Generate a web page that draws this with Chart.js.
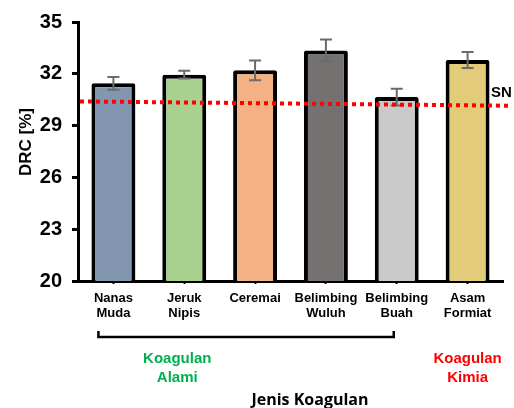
<!DOCTYPE html>
<html>
<head>
<meta charset="utf-8">
<script src="https://cdn.jsdelivr.net/npm/chart.js@4/dist/chart.umd.min.js"></script>
<style>
  html, body { margin: 0; padding: 0; background: #ffffff; }
  #wrap { width: 514px; height: 408px; }
</style>
</head>
<body>
<div id="wrap"><canvas id="c" width="514" height="408"></canvas></div>
<script>
// Coagulant types (two-line labels)
const categories = [
  ['Nanas', 'Muda'],
  ['Jeruk', 'Nipis'],
  ['Ceremai'],
  ['Belimbing', 'Wuluh'],
  ['Belimbing', 'Buah'],
  ['Asam', 'Formiat']
];
// Dry rubber content, % (mean and standard deviation)
const drcMean = [31.45, 31.95, 32.2, 33.35, 30.65, 32.8];
const drcError = [0.37, 0.22, 0.57, 0.63, 0.48, 0.46];
const barColors = ['#8497B0', '#A9D18E', '#F4B183', '#767171', '#C9C9C9', '#E2CC7A'];
// Standard (SN) reference line, value at left and right ends
const snLine = [30.4, 30.15];
// Y axis range and tick step
const yTicks = { min: 20, max: 35, step: 3 };
// Group labels below the axis
const groupNatural = ['Koagulan', 'Alami'];
const groupChemical = ['Koagulan', 'Kimia'];

const ARIAL = '"Liberation Sans", Arial, sans-serif';

const overlay = {
  id: 'overlay',
  afterDatasetsDraw(chart) {
    const ctx = chart.ctx;
    const x = chart.scales.x, y = chart.scales.y;
    const area = chart.chartArea;

    // error bars
    ctx.save();
    ctx.strokeStyle = '#6b6b6b';
    ctx.lineWidth = 2;
    drcMean.forEach((v, i) => {
      const cx = x.getPixelForValue(i);
      const top = y.getPixelForValue(v + drcError[i]);
      const bot = y.getPixelForValue(v - drcError[i]);
      ctx.beginPath();
      ctx.moveTo(cx, top); ctx.lineTo(cx, bot);
      ctx.moveTo(cx - 6, top); ctx.lineTo(cx + 6, top);
      ctx.moveTo(cx - 6, bot); ctx.lineTo(cx + 6, bot);
      ctx.stroke();
    });
    ctx.restore();

    // SN dotted line
    ctx.save();
    ctx.strokeStyle = '#FF0000';
    ctx.lineWidth = 4;
    ctx.setLineDash([4, 4]);
    ctx.beginPath();
    ctx.moveTo(area.left + 2, y.getPixelForValue(snLine[0]));
    ctx.lineTo(area.right + 8, y.getPixelForValue(snLine[1]));
    ctx.stroke();
    ctx.restore();

    // SN label
    ctx.save();
    ctx.fillStyle = '#000';
    ctx.font = 'bold 15px ' + ARIAL;
    ctx.textAlign = 'left';
    ctx.textBaseline = 'alphabetic';
    ctx.fillText('SN', 491, y.getPixelForValue(snLine[1]) - 9);
    ctx.restore();
  },
  afterDraw(chart) {
    const ctx = chart.ctx;
    const x = chart.scales.x;

    // y axis title
    ctx.save();
    ctx.translate(31, 142);
    ctx.rotate(-Math.PI / 2);
    ctx.font = 'bold 17px ' + ARIAL;
    ctx.fillStyle = '#000';
    ctx.textAlign = 'center';
    ctx.textBaseline = 'alphabetic';
    ctx.fillText('DRC [%]', 0, 0);
    ctx.restore();

    // bracket under natural coagulants
    const bl = x.getPixelForValue(0) - 15;
    const br = x.getPixelForValue(4) - 3;
    ctx.save();
    ctx.strokeStyle = '#000';
    ctx.lineWidth = 2.5;
    ctx.beginPath();
    ctx.moveTo(bl, 331); ctx.lineTo(bl, 337); ctx.lineTo(br, 337); ctx.lineTo(br, 331);
    ctx.stroke();
    ctx.restore();

    // group labels
    ctx.save();
    ctx.font = 'bold 15px ' + ARIAL;
    ctx.textAlign = 'center';
    ctx.textBaseline = 'alphabetic';
    ctx.fillStyle = '#00B050';
    const gx = x.getPixelForValue(1) - 7;
    ctx.fillText(groupNatural[0], gx, 363);
    ctx.fillText(groupNatural[1], gx, 382);
    ctx.fillStyle = '#FF0000';
    const kx = x.getPixelForValue(5);
    ctx.fillText(groupChemical[0], kx, 363);
    ctx.fillText(groupChemical[1], kx, 382);
    ctx.restore();

    // x axis title
    ctx.save();
    ctx.font = 'bold 16px "Open Sans", Lato, sans-serif';
    ctx.fillStyle = '#000';
    ctx.textAlign = 'center';
    ctx.textBaseline = 'alphabetic';
    ctx.fillText('Jenis Koagulan', 310, 405);
    ctx.restore();
  }
};

new Chart(document.getElementById('c'), {
  type: 'bar',
  data: {
    labels: categories,
    datasets: [{
      data: drcMean,
      backgroundColor: barColors,
      borderColor: '#000000',
      borderWidth: 4,
      borderRadius: 2,
      categoryPercentage: 1,
      barPercentage: 0.62
    }]
  },
  options: {
    responsive: false,
    animation: false,
    devicePixelRatio: 1,
    layout: { padding: { top: 21, right: 11, left: 0, bottom: 0 } },
    plugins: { legend: { display: false }, tooltip: { enabled: false }, title: { display: false } },
    scales: {
      x: {
        grid: { display: true, drawOnChartArea: false, offset: false, tickLength: 3, tickWidth: 2, tickColor: '#000' },
        border: { display: true, color: '#000', width: 3 },
        ticks: {
          color: '#000',
          font: { family: ARIAL, size: 13, weight: 'bold', lineHeight: 1.15 },
          padding: 7,
          maxRotation: 0,
          autoSkip: false
        },
        afterFit(scale) { scale.height = 127; }
      },
      y: {
        min: yTicks.min,
        max: yTicks.max,
        grid: { display: true, drawOnChartArea: false, tickLength: 6, tickWidth: 3, tickColor: '#000' },
        border: { display: true, color: '#000', width: 3 },
        ticks: {
          stepSize: yTicks.step,
          color: '#000',
          font: { family: ARIAL, size: 20, weight: 'bold' },
          padding: 10
        },
        afterFit(scale) { scale.width = 78; }
      }
    }
  },
  plugins: [overlay]
});
</script>
</body>
</html>
